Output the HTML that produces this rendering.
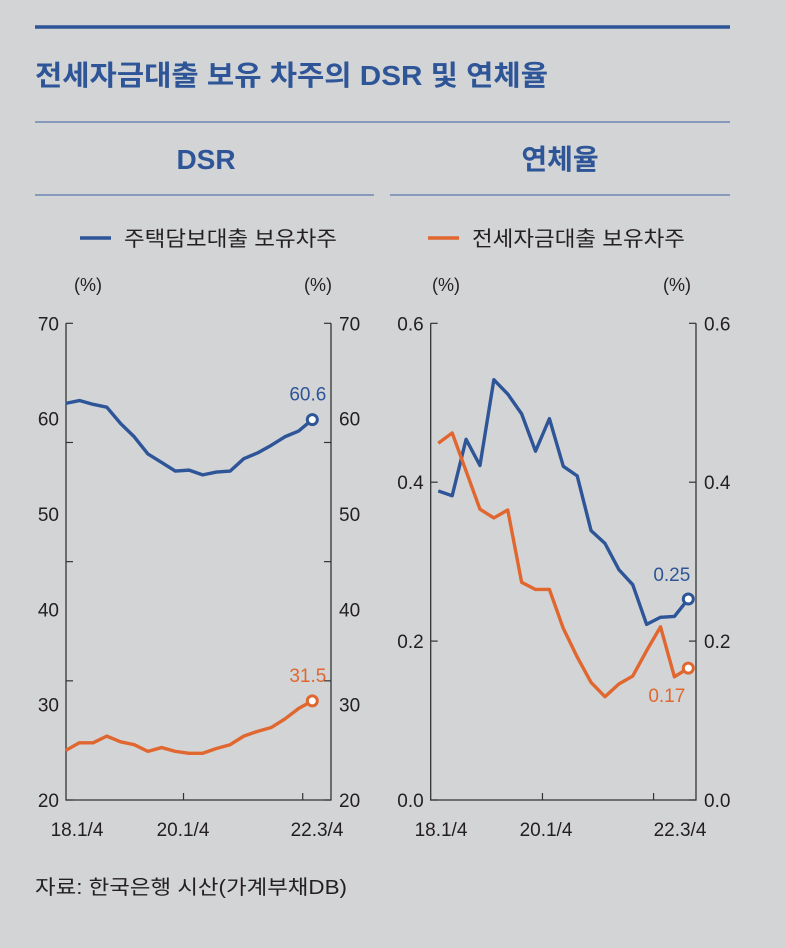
<!DOCTYPE html>
<html><head><meta charset="utf-8">
<style>
body{margin:0;background:#d3d4d6;}
svg{display:block;font-family:"Liberation Sans","Noto Sans CJK KR",sans-serif;}
</style></head>
<body>
<svg width="785" height="948" viewBox="0 0 785 948">
<rect width="785" height="948" fill="#d3d4d6"/>
<line x1="35" y1="27" x2="730" y2="27" stroke="#2e5597" stroke-width="3.5"/>
<text x="35" y="85" font-size="28" font-weight="bold" fill="#2e5597" textLength="513" lengthAdjust="spacingAndGlyphs">전세자금대출 보유 차주의 DSR 및 연체율</text>
<line x1="35" y1="122" x2="730" y2="122" stroke="#5a78ad" stroke-width="1.3"/>
<text x="206" y="169" font-size="28" font-weight="bold" fill="#2e5597" text-anchor="middle">DSR</text>
<text x="560" y="169" font-size="28" font-weight="bold" fill="#2e5597" text-anchor="middle">연체율</text>
<line x1="35" y1="195" x2="374" y2="195" stroke="#5a78ad" stroke-width="1.3"/>
<line x1="390" y1="195" x2="730" y2="195" stroke="#5a78ad" stroke-width="1.3"/>
<g>
<line x1="80" y1="238" x2="111" y2="238" stroke="#2e5597" stroke-width="3.5"/>
<text x="124" y="246" font-size="21" fill="#231f20" textLength="213" lengthAdjust="spacingAndGlyphs">주택담보대출 보유차주</text>
</g>
<g>
<line x1="428" y1="238" x2="459" y2="238" stroke="#e0672f" stroke-width="3.5"/>
<text x="472" y="246" font-size="21" fill="#231f20" textLength="213" lengthAdjust="spacingAndGlyphs">전세자금대출 보유차주</text>
</g>
<g font-size="18" fill="#231f20">
<text x="88" y="291" text-anchor="middle">(%)</text>
<text x="318" y="291" text-anchor="middle">(%)</text>
<text x="446" y="291" text-anchor="middle">(%)</text>
<text x="677" y="291" text-anchor="middle">(%)</text>
</g>
<g id="dsr"></g>
<g id="del"></g>
<text x="35" y="894" font-size="20" fill="#231f20" textLength="312" lengthAdjust="spacingAndGlyphs">자료: 한국은행 시산(가계부채DB)</text>
</svg>
<script>
const xLabels = ["18.1/4","20.1/4","22.3/4"];
const dsrMortgage = [61.6,61.9,61.5,61.2,59.5,58.1,56.3,55.4,54.5,54.6,54.1,54.4,54.5,55.8,56.4,57.2,58.1,58.7,59.9];
const dsrJeonse = [25.2,26.0,26.0,26.7,26.1,25.8,25.1,25.5,25.1,24.9,24.9,25.4,25.8,26.7,27.2,27.6,28.5,29.6,30.4];
const dsrTickLabels = [20,30,40,50,60,70];
const dsrTickMarks = [20,32.5,45,57.5,70];
const dsrEndLabels = ["60.6","31.5"];
const delMortgage = [0.389,0.383,0.454,0.421,0.529,0.511,0.486,0.439,0.480,0.420,0.408,0.339,0.323,0.290,0.271,0.221,0.230,0.231,0.253];
const delJeonse = [0.449,0.462,0.414,0.366,0.355,0.365,0.274,0.265,0.265,0.216,0.180,0.148,0.130,0.146,0.156,0.188,0.218,0.155,0.166];
const delTickLabels = ["0.0","0.2","0.4","0.6"];
const delEndLabels = ["0.25","0.17"];

const NS="http://www.w3.org/2000/svg";
function mk(parent,tag,attrs,text){const e=document.createElementNS(NS,tag);for(const k in attrs)e.setAttribute(k,attrs[k]);if(text!==undefined)e.textContent=text;parent.appendChild(e);return e;}
const BLUE="#2e5597",ORANGE="#e0672f",INK="#231f20";

function panel(g,o){
  const y=v=>o.y0+(o.ymax-v)/(o.ymax-o.ymin)*(o.y1-o.y0);
  const x=i=>o.px0+i*(o.px1-o.px0)/(o.n-1);
  let e;
  e=mk(g,"path",{d:`M${o.ax0} ${o.y0}V${o.y1}H${o.ax1}V${o.y0}`,fill:"none",stroke:"#333",'stroke-width':1.3});
  
  
  o.ticks.forEach(t=>{
    e=mk(g,"line",{x1:o.ax0,x2:o.ax0+7,y1:y(t),y2:y(t),stroke:"#333",'stroke-width':1.2});
    
    
    e=mk(g,"line",{x1:o.ax1-7,x2:o.ax1,y1:y(t),y2:y(t),stroke:"#333",'stroke-width':1.2});
    
    
  });
  o.labels.forEach(t=>{
    const v=parseFloat(t);
    e=mk(g,"text",{x:o.ax0-7,y:y(v)+7,'font-size':19,fill:INK,'text-anchor':'end'},t);
    
    
    e=mk(g,"text",{x:o.ax1+8,y:y(v)+7,'font-size':19,fill:INK,'text-anchor':'start'},t);
    
    
  });
  o.xticks.forEach(i=>{
    e=mk(g,"line",{x1:x(i),x2:x(i),y1:o.y1,y2:o.y1-7,stroke:"#333",'stroke-width':1.2});
    
    
  });
  xLabels.forEach((l,k)=>{
    e=mk(g,"text",{x:o.xlabX[k],y:o.y1+36,'font-size':19,fill:INK,'text-anchor':'middle'},l);
    
    
  });
  [[o.s1,BLUE,"mortgage-line"],[o.s2,ORANGE,"jeonse-line"]].forEach(([s,c,nm],k)=>{
    e=mk(g,"polyline",{points:s.map((v,i)=>x(i)+","+y(v)).join(" "),fill:"none",stroke:c,'stroke-width':3.4,'stroke-linejoin':'round'});
    
    
    const li=s.length-1;
    e=mk(g,"circle",{cx:x(li),cy:y(s[li]),r:5,fill:"#fff",stroke:c,'stroke-width':3});
    
    
    e=mk(g,"text",{x:x(li)+o.lblDx[k],y:y(s[li])+o.lblDy[k],'font-size':19,fill:c,'text-anchor':'end'},o.endLabels[k]);
    
    
  });
}
panel(document.getElementById("dsr"),{ax0:66,ax1:331,px0:65.7,px1:312.3,n:19,y0:323.3,y1:800,ymin:20,ymax:70,
  ticks:dsrTickMarks,labels:dsrTickLabels.map(String),xticks:[8.6,17.3],xlabX:[77,183,317],
  s1:dsrMortgage,s2:dsrJeonse,endLabels:dsrEndLabels,lblDx:[14,14],lblDy:[-19,-19]});
panel(document.getElementById("del"),{ax0:430.7,ax1:696,px0:438.3,px1:688.3,n:19,y0:323.3,y1:800,ymin:0,ymax:0.6,
  ticks:[0,0.2,0.4,0.6],labels:delTickLabels,xticks:[7.5,15.5],xlabX:[441,546,680],
  s1:delMortgage,s2:delJeonse,endLabels:delEndLabels,lblDx:[2,-3],lblDy:[-18,34]});
</script>
</body></html>
